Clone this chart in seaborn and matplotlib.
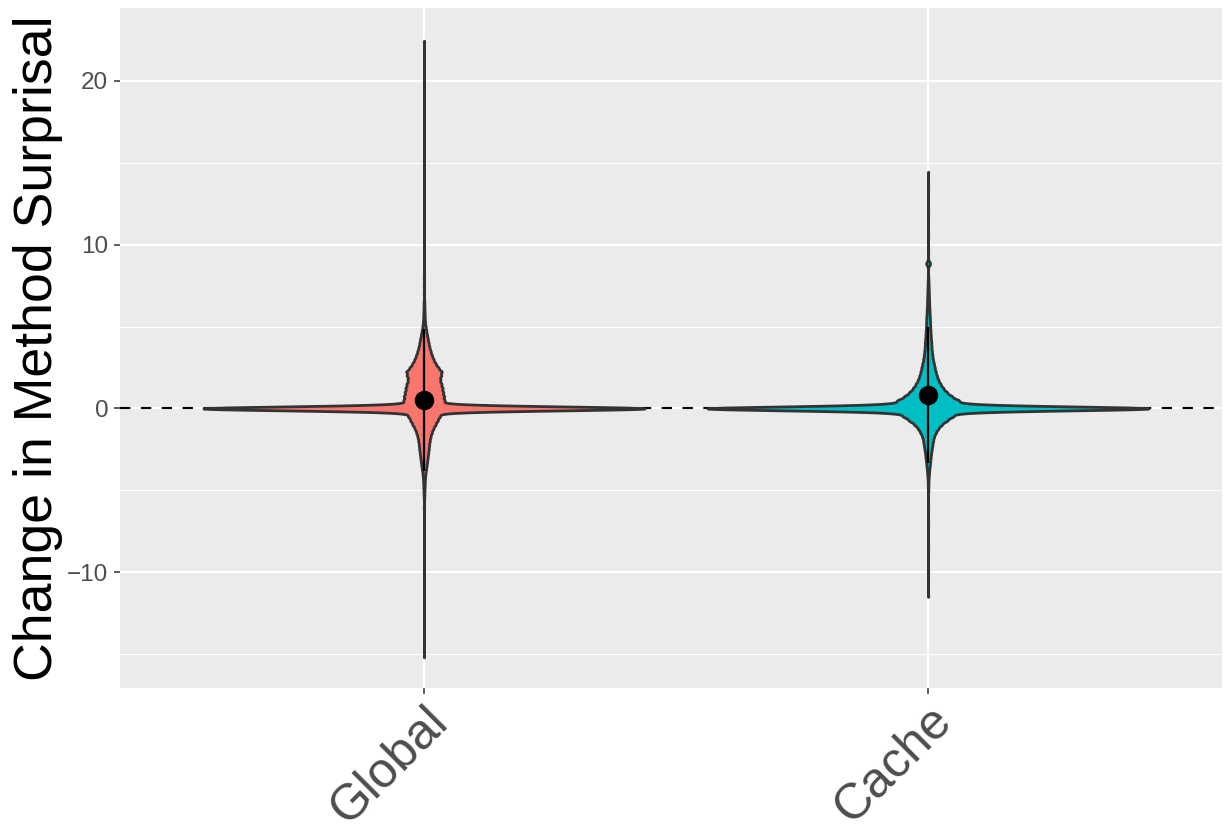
import numpy as np
import pandas as pd
import matplotlib
matplotlib.use("Agg")
import matplotlib.pyplot as plt
from matplotlib.ticker import FixedLocator
import seaborn as sns

# ---- data -------------------------------------------------------------
categories = ["Global", "Cache"]
palette = ["#F8766D", "#00BFC4"]

# Observed changes in method surprisal, stored as (value, count) pairs.
global_values = [
    -15.2, -14.0, -12.5, -11.0, -9.5, -8.0, -7.0, -6.0, -5.5, -5.25, -5.0,
    -4.75, -4.5, -4.25,
    -4.0, -3.75, -3.5, -3.25, -3.0, -2.75, -2.5, -2.25, -2.0, -1.75, -1.5,
    -1.25, -1.0, -0.75, -0.5, -0.25, 0.0,
    0.25, 0.5, 0.75, 1.0, 1.25, 1.5, 1.75, 2.0, 2.25, 2.5, 2.75, 3.0,
    3.25, 3.5, 3.75, 4.0, 4.25, 4.5, 4.75, 5.0, 5.25, 5.5, 5.75, 6.0,
    6.25, 6.5, 7.0, 7.5, 8.0, 8.5, 9.5, 11.0, 13.0, 15.5, 18.0, 20.5,
    22.45,
]
global_counts = [
    1, 1, 1, 1, 1, 1, 1, 2, 2, 3, 4,
    5, 6, 8,
    11, 15, 20, 24, 28, 32, 36, 39, 43, 49, 58,
    70, 87, 103, 120, 130, 2000,
    155, 155, 152, 145, 140, 132, 122, 130, 136, 108, 88, 72,
    60, 50, 41, 35, 29, 23, 17, 12, 8, 6, 5, 4,
    3, 3, 2, 2, 2, 1, 1, 1, 1, 1, 1, 1,
    1,
]

cache_values = [
    -11.5, -10.0, -8.5, -7.0, -6.0, -5.0, -4.75, -4.5, -4.25,
    -4.0, -3.75, -3.5, -3.25, -3.0, -2.75, -2.5, -2.25, -2.0, -1.75, -1.5,
    -1.25, -1.0, -0.75, -0.5, -0.25, 0.0,
    0.25, 0.5, 0.75, 1.0, 1.25, 1.5, 1.75, 2.0, 2.25, 2.5, 2.75, 3.0,
    3.25, 3.5, 3.75, 4.0, 4.25, 4.5, 4.75, 5.0, 5.25, 5.5, 5.75, 6.0,
    6.25, 6.5, 6.75, 7.0, 7.25, 7.5, 7.75, 8.0, 8.85, 9.5, 10.5, 12.0,
    13.5, 14.45,
]
cache_counts = [
    1, 1, 1, 1, 1, 2, 2, 3, 4,
    7, 9, 13, 16, 20, 23, 28, 33, 38, 45, 59,
    77, 104, 145, 190, 235, 2000,
    270, 235, 180, 143, 115, 95, 78, 67, 58, 51, 44, 37,
    33, 29, 26, 25, 22, 20, 18, 16, 15, 14, 12, 11,
    9, 8, 7, 6, 5, 4, 3, 2, 18, 1, 1, 1,
    1, 1,
]

# Mean and standard deviation of each group (mean +/- 1 sd range)
group_means = [0.50, 0.82]
group_sds = [4.32, 4.14]

kde_bandwidth = 0.12

# ---- long-form table ----------------------------------------------------
frames = []
for name, vals, cnts in [("Global", global_values, global_counts),
                         ("Cache", cache_values, cache_counts)]:
    frames.append(pd.DataFrame({
        "model": name,
        "delta": np.repeat(np.asarray(vals, float), np.asarray(cnts, int)),
    }))
df = pd.concat(frames, ignore_index=True)

# ---- style ---------------------------------------------------------------
sns.set_theme(style="darkgrid", rc={
    "axes.facecolor": "#EBEBEB",
    "figure.facecolor": "white",
    "grid.color": "white",
    "axes.edgecolor": "#EBEBEB",
})
plt.rcParams["font.family"] = ["Liberation Sans", "DejaVu Sans"]

fig = plt.figure(figsize=(12.23, 8.32), dpi=100)
ax = fig.add_axes([120 / 1223, 1 - 688 / 832, 1102 / 1223, 680 / 832])

ax.axhline(0, color="black", lw=1.5, ls=(0, (5, 5)), zorder=0.8)

sns.violinplot(
    data=df, x="model", y="delta", hue="model", order=categories,
    hue_order=categories, palette=palette, saturation=1, inner=None,
    cut=0, gridsize=4000, density_norm="width", width=0.875,
    bw_method=lambda k: kde_bandwidth / np.std(k.dataset, ddof=1),
    linewidth=2.0, linecolor="#333333", legend=False, ax=ax,
)

pos = np.arange(len(categories))
ax.errorbar(pos, group_means, yerr=group_sds, fmt="o", color="black",
            ms=13, elinewidth=1.6, capsize=0, zorder=5)

# ---- axes ----------------------------------------------------------------
ax.set_xlim(-0.603, 1.583)
ax.set_ylim(-17.07, 24.45)
ax.yaxis.set_major_locator(FixedLocator([-10, 0, 10, 20]))
ax.yaxis.set_minor_locator(FixedLocator([-15, -5, 5, 15]))
ax.set_yticklabels(["\u221210", "0", "10", "20"])
ax.grid(True, which="major", color="white", lw=1.5)
ax.grid(True, which="minor", axis="y", color="white", lw=0.75)
ax.set_axisbelow(True)
for sp in ax.spines.values():
    sp.set_visible(False)

ax.tick_params(axis="both", which="major", length=4, width=1.1,
               color="#333333", labelcolor="#4D4D4D", bottom=True, left=True)
ax.tick_params(axis="y", which="minor", length=0, left=False)
ax.tick_params(axis="y", labelsize=17.5, pad=4.5)
ax.tick_params(axis="x", labelsize=36, pad=3)

ax.set_xticks(pos)
ax.set_xticklabels(categories, rotation=45, ha="right", va="top",
                   rotation_mode="anchor")

ax.set_xlabel("")
ax.set_ylabel("Change in Method Surprisal", fontsize=38.6, color="black",
              labelpad=3)

fig.savefig("out.png", dpi=100)
